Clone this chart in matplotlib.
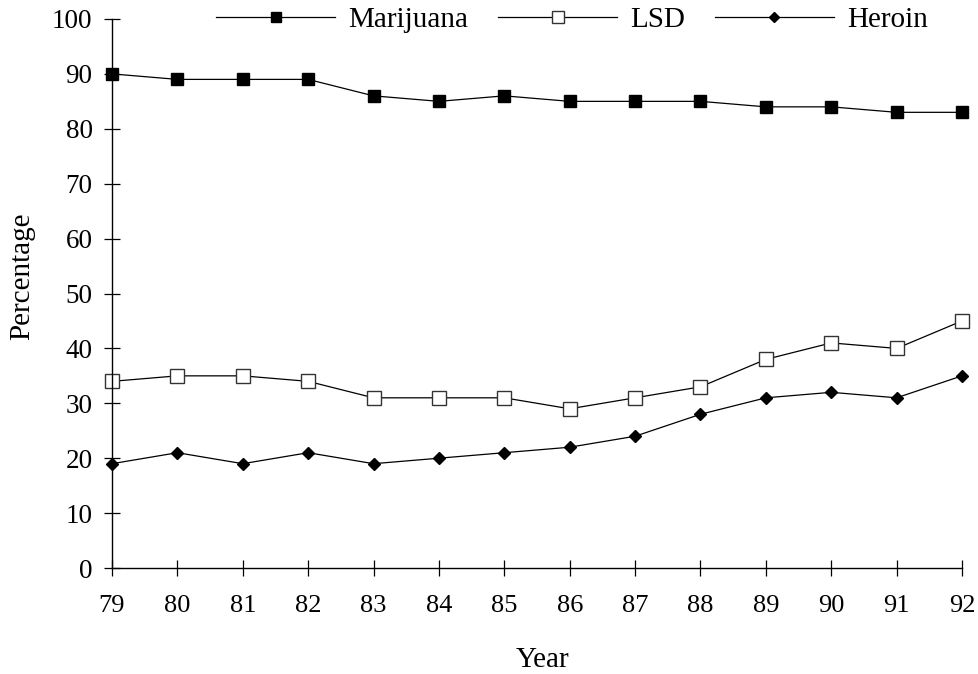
import matplotlib.pyplot as plt

# Data
years = list(range(79, 93))
marijuana = [90, 89, 89, 89, 86, 85, 86, 85, 85, 85, 84, 84, 83, 83]
lsd = [34, 35, 35, 34, 31, 31, 31, 29, 31, 33, 38, 41, 40, 45]
heroin = [19, 21, 19, 21, 19, 20, 21, 22, 24, 28, 31, 32, 31, 35]
y_ticks = list(range(0, 101, 10))

serif = 'Liberation Serif'

fig = plt.figure(figsize=(9.79, 6.74), dpi=100)
ax = fig.add_axes([112 / 979, 1 - 568 / 674, 850 / 979, 549 / 674])

ax.plot(years, marijuana, color='black', lw=0.9, marker='s', ms=9,
        mfc='black', mec='black', label='Marijuana', clip_on=False)
ax.plot(years, lsd, color='black', lw=0.9, marker='s', ms=9.5,
        mfc='white', mec='#333333', mew=1.0, label='LSD', clip_on=False)
ax.plot(years, heroin, color='black', lw=0.9, marker='D', ms=6.5,
        mfc='black', mec='black', label='Heroin', clip_on=False)

ax.set_xlim(79, 92)
ax.set_ylim(0, 100)
ax.set_xticks(years)
ax.set_yticks(y_ticks)
for side in ['top', 'right']:
    ax.spines[side].set_visible(False)
for side in ['left', 'bottom']:
    ax.spines[side].set_linewidth(1.0)

ax.tick_params(axis='both', direction='inout', length=11, width=0.9)
ax.tick_params(axis='x', pad=14)
ax.tick_params(axis='y', pad=8.5)
for lab in ax.get_xticklabels():
    lab.set_fontfamily(serif)
    lab.set_fontsize(19)
for lab in ax.get_yticklabels():
    lab.set_fontfamily(serif)
    lab.set_fontsize(19.5)

ax.set_xlabel('Year', fontfamily=serif, fontsize=21, va='center')
ax.xaxis.set_label_coords(0.507, -0.168)
ax.set_ylabel('Percentage', fontfamily=serif, fontsize=21, va='center')
ax.yaxis.set_label_coords(-0.106, 0.532)

fig.legend(loc='center', bbox_to_anchor=(572 / 979, 1 - 20 / 674), ncol=3,
           frameon=False, prop={'family': serif, 'size': 21},
           handlelength=4.1, handletextpad=0.45, columnspacing=1.0,
           markerscale=0.85, borderpad=0, borderaxespad=0)

fig.savefig('out.png', dpi=100)
